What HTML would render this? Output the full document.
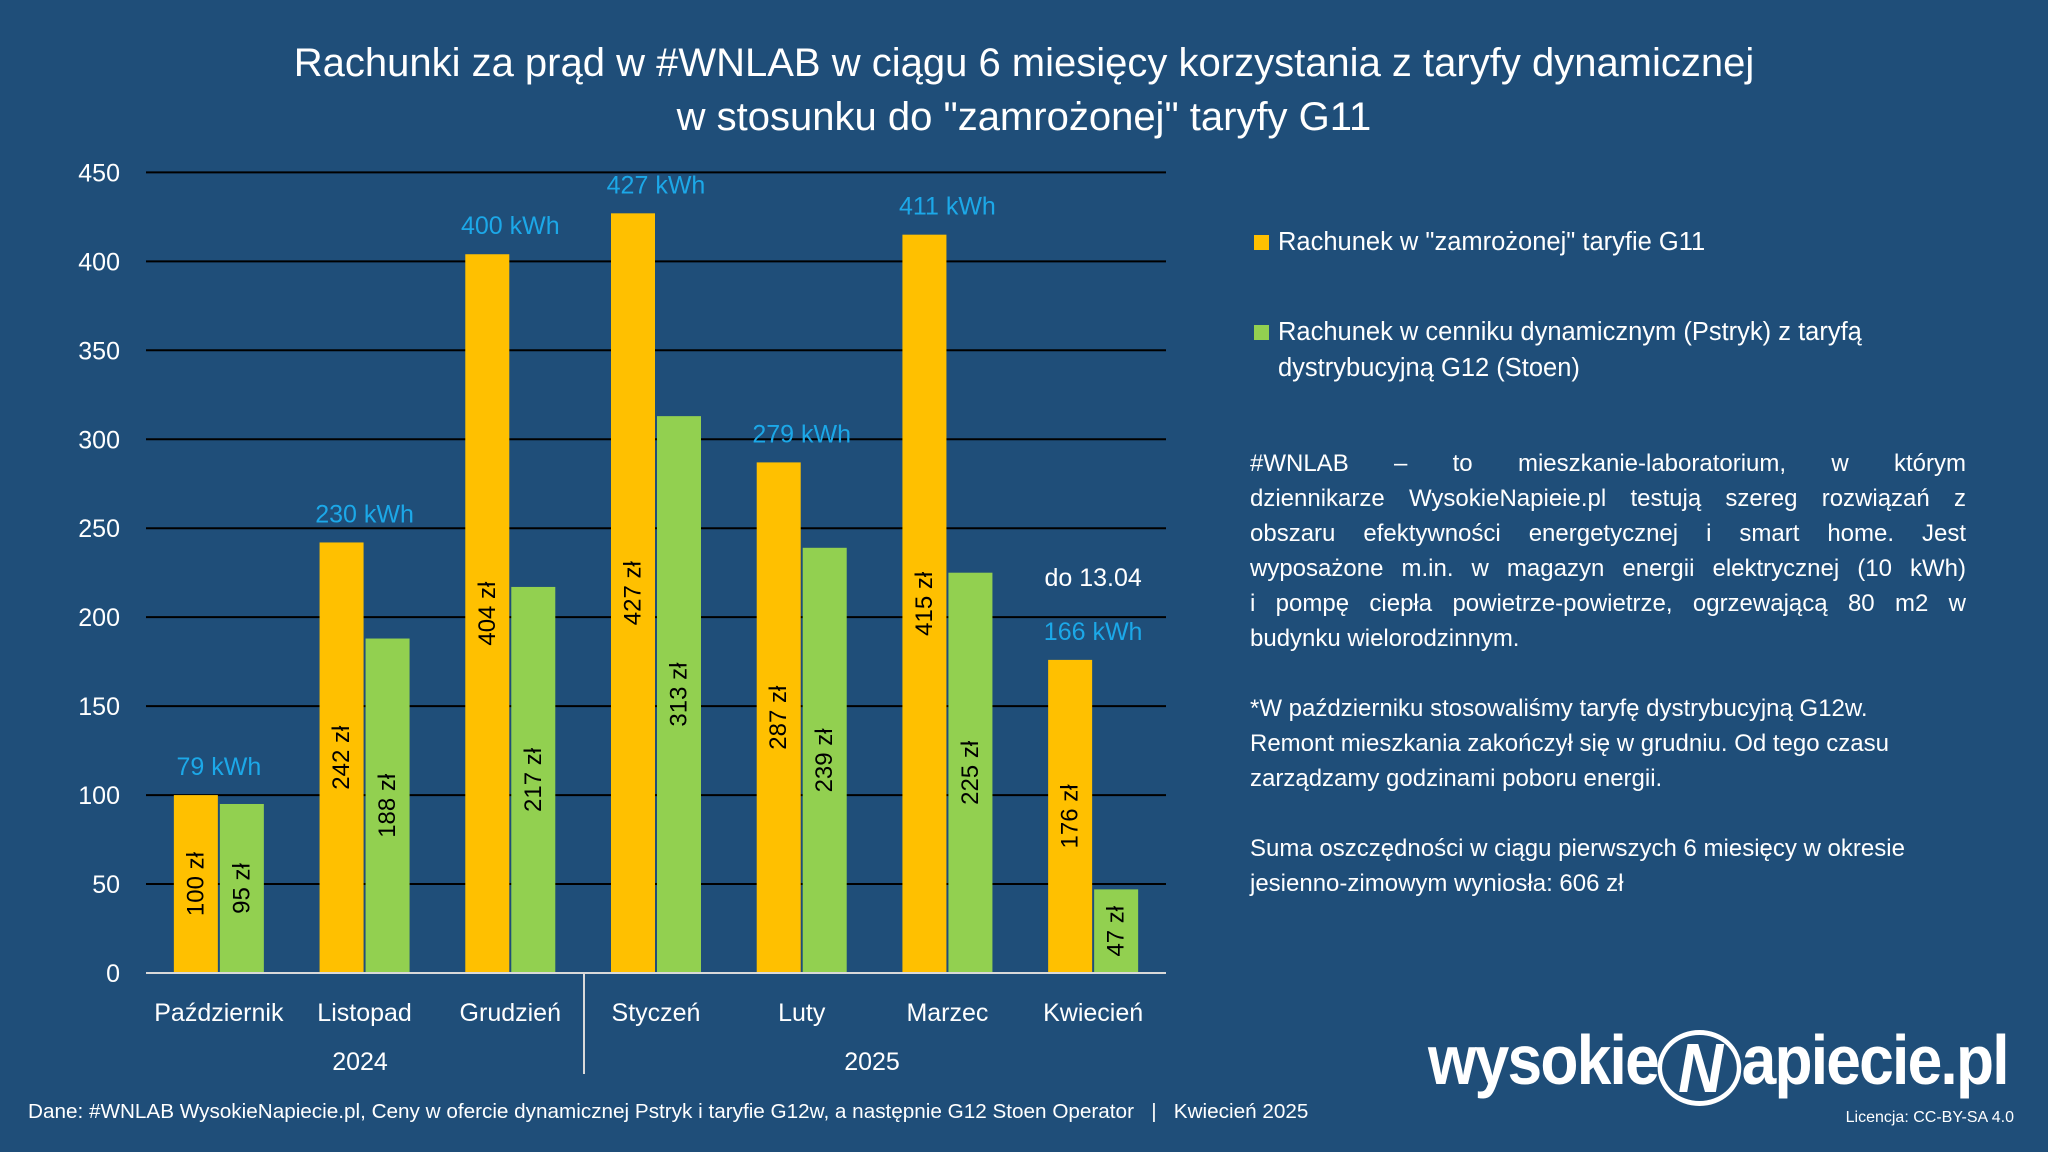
<!DOCTYPE html>
<html><head><meta charset="utf-8">
<style>
body{margin:0;background:#1f4e79;}
#root{position:relative;width:2048px;height:1152px;background:#1f4e79;overflow:hidden;font-family:"Liberation Sans",sans-serif;color:#fff;}
.abs{position:absolute;}
.jl{text-align:justify;text-align-last:justify;white-space:nowrap;}
</style></head>
<body>
<div id="root">
<div class="abs" style="left:0;width:2048px;top:36px;text-align:center;font-size:40px;line-height:54px;">Rachunki za prąd w #WNLAB w ciągu 6 miesięcy korzystania z taryfy dynamicznej<br>w stosunku do "zamrożonej" taryfy G11</div>
<svg id="chart" class="abs" style="left:0;top:0" width="2048" height="1152"></svg>

<div class="abs" style="left:1254px;top:228px;font-size:25.5px;"><span style="display:inline-block;width:15px;height:15px;background:#ffc000;margin-right:9px;"></span>Rachunek w "zamrożonej" taryfie G11</div>
<div class="abs" style="left:1254px;top:314px;font-size:25.5px;line-height:36px;"><span style="display:inline-block;width:15px;height:15px;background:#92d050;margin-right:9px;"></span>Rachunek w cenniku dynamicznym (Pstryk) z taryfą<br><span style="padding-left:24px">dystrybucyjną G12 (Stoen)</span></div>

<div class="abs" style="left:1250px;top:446px;width:716px;font-size:24px;line-height:35px;">
<div class="jl">#WNLAB – to mieszkanie-laboratorium, w którym</div>
<div class="jl">dziennikarze WysokieNapieie.pl testują szereg rozwiązań z</div>
<div class="jl">obszaru efektywności energetycznej i smart home. Jest</div>
<div class="jl">wyposażone m.in. w magazyn energii elektrycznej (10 kWh)</div>
<div class="jl">i pompę ciepła powietrze-powietrze, ogrzewającą 80 m2 w</div>
<div>budynku wielorodzinnym.</div>
<div style="height:35px"></div>
<div>*W październiku stosowaliśmy taryfę dystrybucyjną G12w.</div>
<div>Remont mieszkania zakończył się w grudniu. Od tego czasu</div>
<div>zarządzamy godzinami poboru energii.</div>
<div style="height:35px"></div>
<div>Suma oszczędności w ciągu pierwszych 6 miesięcy w okresie</div>
<div>jesienno-zimowym wyniosła: 606 zł</div>
</div>

<div class="abs" style="left:28px;top:1100px;font-size:20.7px;">Dane: #WNLAB WysokieNapiecie.pl, Ceny w ofercie dynamicznej Pstryk i taryfie G12w, a następnie G12 Stoen Operator &nbsp; | &nbsp; Kwiecień 2025</div>
<div class="abs" style="left:1428px;top:1020px;font-size:70px;font-weight:bold;letter-spacing:-2px;transform:scaleX(0.89);transform-origin:left top;white-space:nowrap;">wysokie<span style="display:inline-block;width:84px;height:66px;border:5px solid #fff;border-radius:50%;vertical-align:-8px;text-align:center;line-height:66px;font-style:italic;">N</span>apiecie.pl</div>
<div class="abs" style="right:34px;top:1109px;font-size:16px;">Licencja: CC-BY-SA 4.0</div>
</div>
<script>
const categories=["Październik","Listopad","Grudzień","Styczeń","Luty","Marzec","Kwiecień"];
const g11Values=[100,242,404,427,287,415,176];
const dynValues=[95,188,217,313,239,225,47];
const kwhValues=[79,230,400,427,279,411,166];
const yTicks=[0,50,100,150,200,250,300,350,400,450];
const svg=document.getElementById('chart');
const NS='http://www.w3.org/2000/svg';
const x0=146,x1=1166,yb=973,yt=172.4,ymax=450;
const step=(x1-x0)/categories.length;
const Y=v=>yb-(v/ymax)*(yb-yt);
const Xc=i=>x0+step*(i+0.5);
function mk(tag,attrs,txt){const e=document.createElementNS(NS,tag);for(const k in attrs)e.setAttribute(k,attrs[k]);if(txt!==undefined)e.textContent=txt;svg.appendChild(e);return e;}
const F='Liberation Sans, sans-serif';
yTicks.forEach(t=>{
  if(t>0){const l=mk('line',{x1:x0,x2:x1,y1:Y(t),y2:Y(t),stroke:'#000','stroke-width':2});
  
  }
  const tx=mk('text',{x:120,y:Y(t)+9,'text-anchor':'end',fill:'#fff','font-size':25,'font-family':F},t);
  
  
});
const bw=44;
categories.forEach((c,i)=>{
  const cx=Xc(i);
  const b1=mk('rect',{x:cx-bw-1,y:Y(g11Values[i]),width:bw,height:yb-Y(g11Values[i]),fill:'#ffc000'});
  
  
  const b2=mk('rect',{x:cx+1,y:Y(dynValues[i]),width:bw,height:yb-Y(dynValues[i]),fill:'#92d050'});
  
  
  [[g11Values[i],cx-bw/2-1],[dynValues[i],cx+bw/2+1]].forEach(([v,xx],k)=>{
    const my=(Y(v)+yb)/2;
    const t=mk('text',{x:xx,y:my,'text-anchor':'middle','dominant-baseline':'central',fill:'#000','font-size':24,'font-family':F,transform:`rotate(-90 ${xx} ${my})`},v+' zł');
    
    
  });
  const kl=mk('text',{x:cx,y:Y(g11Values[i])-20,'text-anchor':'middle',fill:'#1ca8e8','font-size':25,'font-family':F},kwhValues[i]+' kWh');
  
  
  const cl=mk('text',{x:cx,y:1021,'text-anchor':'middle',fill:'#fff','font-size':25,'font-family':F},c);
  
  
});
const ax=mk('line',{x1:x0,x2:x1,y1:yb,y2:yb,stroke:'#d9d9d9','stroke-width':2});


const sep=mk('line',{x1:584,x2:584,y1:yb,y2:1074,stroke:'#d9d9d9','stroke-width':2});


const y1=mk('text',{x:360,y:1070,'text-anchor':'middle',fill:'#fff','font-size':25,'font-family':F},'2024');


const y2=mk('text',{x:872,y:1070,'text-anchor':'middle',fill:'#fff','font-size':25,'font-family':F},'2025');


const dn=mk('text',{x:Xc(6),y:586,'text-anchor':'middle',fill:'#fff','font-size':25,'font-family':F},'do 13.04');


</script>
</body></html>
